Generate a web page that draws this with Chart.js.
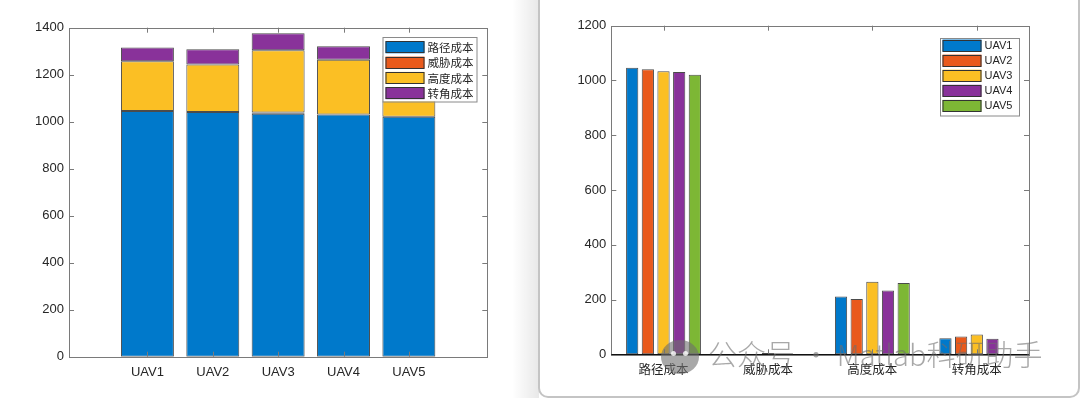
<!DOCTYPE html>
<html>
<head>
<meta charset="utf-8">
<script src="https://cdn.jsdelivr.net/npm/chart.js@4.4.0/dist/chart.umd.min.js"></script>
<style>
html, body { margin: 0; padding: 0; background: #fff; width: 1080px; height: 398px; overflow: hidden; position: relative; }
#c1 { position: absolute; left: 0; top: 0; }
#c2 { position: absolute; left: 541px; top: 0; }
.shadow { position: absolute; left: 512px; top: 0; width: 27px; height: 398px;
  background: linear-gradient(to right, rgba(0,0,0,0), rgba(0,0,0,0.09)); }
.panel { position: absolute; left: 538px; top: -20px; width: 538px; height: 414px;
  border: 2px solid #c4c4c4; border-radius: 10px; background: #fff; }
.wm { position: absolute; left: 708px; top: 333px; font-family: "Noto Sans CJK SC", sans-serif;
  font-size: 29px; font-weight: 300; color: rgba(110,110,110,0.6); white-space: nowrap; line-height: 40px; }
.wm-icon { position: absolute; left: 659px; top: 338px; width: 42px; height: 36px; }
.wm-icon span { position: absolute; border-radius: 50%; background: rgba(110,110,110,0.6); }
.wm-icon i { position: absolute; width: 5px; height: 5px; border-radius: 50%; background: rgba(255,255,255,0.8); }
</style>
</head>
<body>
<div class="shadow"></div>
<div class="panel"></div>
<canvas id="c1" width="530" height="398"></canvas>
<canvas id="c2" width="539" height="398"></canvas>
<div class="wm-icon"><span style="left:2px;top:2px;width:38px;height:34px"></span><i style="left:12px;top:13px"></i><i style="left:24px;top:13px"></i></div>
<div class="wm">公众号 · Matlab科研助手</div>
<script>
const uavs = ['UAV1', 'UAV2', 'UAV3', 'UAV4', 'UAV5'];
const costNames = ['路径成本', '威胁成本', '高度成本', '转角成本'];
// 每架无人机的各项成本
const pathCost = [1046, 1041, 1034, 1031, 1021];
const threatCost = [0, 0, 5, 0, 0];
const heightCost = [211, 202, 265, 233, 260];
const turnCost = [59, 65, 72, 57, 0];
const leftTicks = [0, 200, 400, 600, 800, 1000, 1200, 1400];
const rightTicks = [0, 200, 400, 600, 800, 1000, 1200];

const colors = ['#0079CB', '#E95A1C', '#FBBF24', '#89329A', '#7DB735'];
const tickFont = { family: '"Liberation Sans", Arial, sans-serif', size: 13 };
const cjkFont = { family: '"Noto Sans CJK SC", sans-serif', size: 12.5 };
const edge = 'rgba(30,30,30,0.8)';

// 坐标框和向内的刻度线
const matlabAxes = {
    id: 'matlabAxes',
    afterDatasetsDraw(chart, args, opts) {
        const { ctx, chartArea: a, scales } = chart;
        const tl = 5;
        ctx.save();
        ctx.strokeStyle = '#7a7a7a';
        ctx.lineWidth = 1;
        ctx.beginPath();
        scales.y.ticks.forEach(t => {
            const py = Math.round(scales.y.getPixelForValue(t.value)) + 0.5;
            ctx.moveTo(a.left, py); ctx.lineTo(a.left + tl, py);
            ctx.moveTo(a.right, py); ctx.lineTo(a.right - tl, py);
        });
        scales.x.ticks.forEach((t, i) => {
            const px = Math.round(scales.x.getPixelForTick(i)) + 0.5;
            ctx.moveTo(px, a.bottom); ctx.lineTo(px, a.bottom - tl);
            ctx.moveTo(px, a.top); ctx.lineTo(px, a.top + tl);
        });
        ctx.stroke();
        ctx.strokeRect(Math.round(a.left) + 0.5, Math.round(a.top) + 0.5,
            Math.round(a.right - a.left), Math.round(a.bottom - a.top));
        if (opts.baseline) {
            const y0 = Math.round(scales.y.getPixelForValue(0)) + 0.5;
            ctx.strokeStyle = '#111';
            ctx.beginPath();
            ctx.moveTo(a.left, y0); ctx.lineTo(a.right, y0);
            ctx.stroke();
        }
        ctx.restore();
    }
};

// 图例框
const boxLegend = {
    id: 'boxLegend',
    afterDraw(chart, args, o) {
        const ctx = chart.ctx;
        ctx.save();
        ctx.fillStyle = '#fff';
        ctx.fillRect(o.x, o.y, o.w, o.h);
        ctx.strokeStyle = '#8a8a8a';
        ctx.lineWidth = 1;
        ctx.strokeRect(o.x + 0.5, o.y + 0.5, o.w, o.h);
        ctx.font = o.font;
        ctx.textBaseline = 'middle';
        chart.data.datasets.forEach((ds, i) => {
            const cy = o.y + o.first + i * o.pitch;
            ctx.fillStyle = ds.backgroundColor;
            ctx.fillRect(o.x + o.sx, cy - o.sh / 2, o.sw, o.sh);
            ctx.strokeStyle = '#333';
            ctx.strokeRect(o.x + o.sx + 0.5, Math.round(cy - o.sh / 2) + 0.5, o.sw - 1, o.sh - 1);
            ctx.fillStyle = '#262626';
            ctx.fillText(ds.label, o.x + o.tx, cy + 0.5);
        });
        ctx.restore();
    }
};

// 左图：堆叠柱状图
const stackSeries = [pathCost, threatCost, heightCost, turnCost];
new Chart(document.getElementById('c1'), {
    type: 'bar',
    data: {
        datasets: stackSeries.map((vals, k) => ({
            label: costNames[k],
            data: vals.map((v, i) => ({ x: i + 1, y: v })),
            backgroundColor: colors[k],
            borderColor: edge,
            borderWidth: 1,
            borderSkipped: false,
            categoryPercentage: 0.81,
            barPercentage: 1
        }))
    },
    options: {
        responsive: false,
        animation: false,
        layout: { padding: { left: 0, right: 42.7, top: 27.7, bottom: 0 } },
        plugins: {
            legend: { display: false },
            tooltip: { enabled: false },
            matlabAxes: { baseline: false },
            boxLegend: { x: 382.5, y: 37, w: 94, h: 64.5, first: 10.3, pitch: 15.3,
                sx: 3, sw: 39, sh: 12, tx: 45, font: '11.5px "Noto Sans CJK SC", sans-serif' }
        },
        scales: {
            x: {
                type: 'linear', stacked: true, min: -0.2, max: 6.2, offset: false,
                grid: { display: false, drawTicks: false, offset: false }, border: { display: false },
                afterBuildTicks: s => { s.ticks = uavs.map((u, i) => ({ value: i + 1 })); },
                afterFit: s => { s.height = 41.3; },
                ticks: { callback: v => uavs[v - 1], font: tickFont, color: '#262626', padding: 8, maxRotation: 0 }
            },
            y: {
                stacked: true, min: 0, max: 1400,
                grid: { display: false, drawTicks: false }, border: { display: false },
                afterBuildTicks: s => { s.ticks = leftTicks.map(v => ({ value: v })); },
                afterFit: s => { s.width = 69; },
                ticks: { callback: v => String(v), font: tickFont, color: '#262626', padding: 5 }
            }
        }
    },
    plugins: [matlabAxes, boxLegend]
});

// 右图：分组柱状图
const uavSeries = uavs.map((u, i) => [pathCost[i], threatCost[i], heightCost[i], turnCost[i]]);
new Chart(document.getElementById('c2'), {
    type: 'bar',
    data: {
        labels: costNames,
        datasets: uavSeries.map((vals, i) => ({
            label: uavs[i],
            data: vals,
            backgroundColor: colors[i],
            borderColor: edge,
            borderWidth: 1,
            borderSkipped: false,
            categoryPercentage: 0.75,
            barPercentage: 0.78
        }))
    },
    options: {
        responsive: false,
        animation: false,
        layout: { padding: { left: 0, right: 51, top: 25.7, bottom: 0 } },
        plugins: {
            legend: { display: false },
            tooltip: { enabled: false },
            matlabAxes: { baseline: true },
            boxLegend: { x: 399, y: 38, w: 79, h: 77.5, first: 7.5, pitch: 15.1,
                sx: 2.5, sw: 39, sh: 12, tx: 44.5, font: '11px "Liberation Sans", Arial, sans-serif' }
        },
        scales: {
            x: {
                grid: { display: false, drawTicks: false }, border: { display: false },
                afterFit: s => { s.height = 43.7; },
                ticks: { font: cjkFont, color: '#262626', padding: 7, maxRotation: 0 }
            },
            y: {
                min: 0, max: 1200,
                grid: { display: false, drawTicks: false }, border: { display: false },
                afterBuildTicks: s => { s.ticks = rightTicks.map(v => ({ value: v })); },
                afterFit: s => { s.width = 70.3; },
                ticks: { callback: v => String(v), font: tickFont, color: '#262626', padding: 5 }
            }
        }
    },
    plugins: [matlabAxes, boxLegend]
});
</script>
</body>
</html>
